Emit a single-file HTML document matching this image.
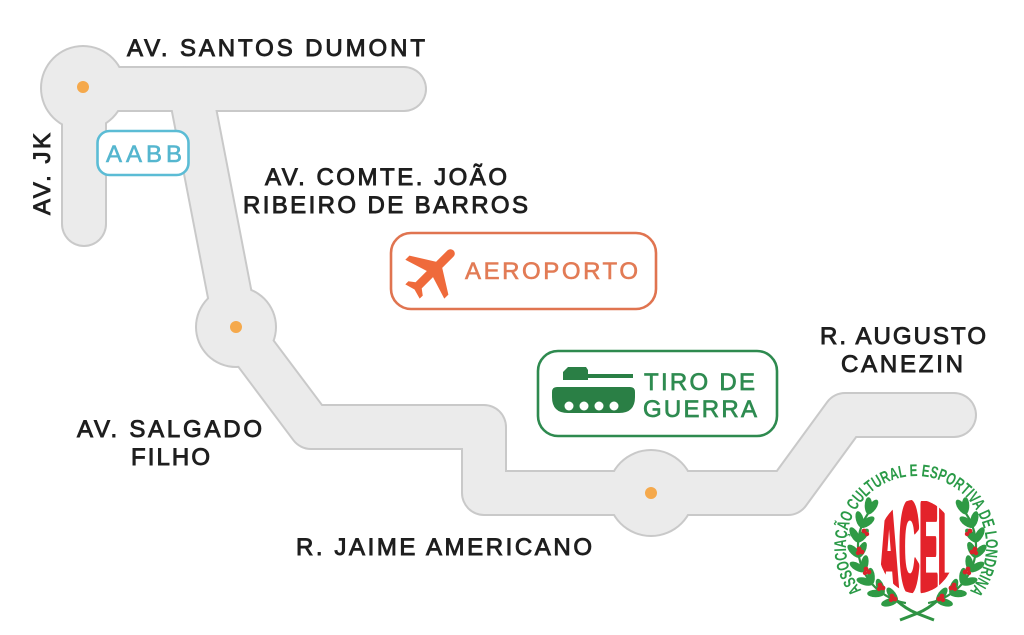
<!DOCTYPE html>
<html>
<head>
<meta charset="utf-8">
<style>
  html,body{margin:0;padding:0;background:#fff;}
  svg{display:block;}
  .lbl{font-family:"Liberation Sans",sans-serif;font-size:24px;fill:#1e1e1e;stroke:#1e1e1e;stroke-width:0.9px;}
</style>
</head>
<body>
<svg width="1024" height="635" viewBox="0 0 1024 635" xmlns="http://www.w3.org/2000/svg">
  <rect width="1024" height="635" fill="#ffffff"/>

  <!-- ROAD OUTLINES -->
  <g fill="none" stroke="#c9c9c9" stroke-width="46" stroke-linecap="round" stroke-linejoin="round">
    <path d="M83,89 L404,89"/>
    <path d="M84,89 L84,224"/>
    <path d="M190,89 L236,327 L311,427 L484,427 L484,493 L788,493 L845,415 L954,415"/>
  </g>
  <circle cx="83" cy="88" r="43" fill="#c9c9c9"/>
  <circle cx="236" cy="327" r="41" fill="#c9c9c9"/>
  <circle cx="651" cy="493" r="44" fill="#c9c9c9"/>

  <!-- ROAD FILLS -->
  <g fill="none" stroke="#ebebeb" stroke-width="42" stroke-linecap="round" stroke-linejoin="round">
    <path d="M83,89 L404,89"/>
    <path d="M84,89 L84,224"/>
    <path d="M190,89 L236,327 L311,427 L484,427 L484,493 L788,493 L845,415 L954,415"/>
  </g>
  <circle cx="83" cy="88" r="41" fill="#ebebeb"/>
  <circle cx="236" cy="327" r="39" fill="#ebebeb"/>
  <circle cx="651" cy="493" r="42" fill="#ebebeb"/>

  <!-- DOTS -->
  <circle cx="83" cy="87" r="6" fill="#f5a94c"/>
  <circle cx="236" cy="327" r="6" fill="#f5a94c"/>
  <circle cx="651" cy="493" r="6" fill="#f5a94c"/>

  <!-- LABELS -->
  <text class="lbl" x="127" y="56" textLength="298" lengthAdjust="spacing">AV. SANTOS DUMONT</text>
  <text class="lbl" transform="translate(50,215) rotate(-90)" x="0" y="0" textLength="82" lengthAdjust="spacing">AV. JK</text>
  <text class="lbl" x="265" y="185" textLength="242" lengthAdjust="spacing">AV. COMTE. JOÃO</text>
  <text class="lbl" x="243" y="213" textLength="285" lengthAdjust="spacing">RIBEIRO DE BARROS</text>
  <text class="lbl" x="820" y="344" textLength="166" lengthAdjust="spacing">R. AUGUSTO</text>
  <text class="lbl" x="841" y="372" textLength="122" lengthAdjust="spacing">CANEZIN</text>
  <text class="lbl" x="77" y="437" textLength="185" lengthAdjust="spacing">AV. SALGADO</text>
  <text class="lbl" x="131" y="465" textLength="79" lengthAdjust="spacing">FILHO</text>
  <text class="lbl" x="296" y="555" textLength="296" lengthAdjust="spacing">R. JAIME AMERICANO</text>

  <!-- AABB BOX -->
  <rect x="97.5" y="131" width="91" height="44" rx="12" ry="12" fill="#ffffff" stroke="#5bbcd5" stroke-width="2.6"/>
  <text x="106" y="162" font-family="Liberation Sans, sans-serif" font-size="24" fill="#55b6cf" stroke="#55b6cf" stroke-width="0.6" textLength="76" lengthAdjust="spacing">AABB</text>

  <!-- AEROPORTO BOX -->
  <rect x="391" y="233" width="265" height="76" rx="20" ry="20" fill="#ffffff" stroke="#e07450" stroke-width="2.6"/>
  <path transform="translate(433,271) rotate(45) scale(2.9) translate(-11.5,-12)" fill="#ef6a3b"
        d="M21 16v-2l-8-5V3.5c0-.83-.67-1.5-1.5-1.5S10 2.67 10 3.5V9l-8 5v2l8-2.5V19l-2 1.5V22l3.5-1 3.5 1v-1.5L13 19v-5.5l8 2.5z"/>
  <text x="465" y="279" font-family="Liberation Sans, sans-serif" font-size="24" fill="#e27b55" stroke="#e27b55" stroke-width="0.6" textLength="173" lengthAdjust="spacing">AEROPORTO</text>

  <!-- TIRO DE GUERRA BOX -->
  <rect x="538" y="351" width="239" height="85" rx="20" ry="20" fill="#ffffff" stroke="#2e8a4f" stroke-width="2.6"/>
  <g fill="#2a7f45">
    <path d="M563,380 L563,372 L568,367 L586,367 L588,370 L588,380 Z"/>
    <rect x="586" y="374" width="47" height="4"/>
    <path d="M557,387 H630 Q635,387 635,392 L635,397 Q635,413 619,413 H568 Q552,413 552,397 L552,392 Q552,387 557,387 Z"/>
  </g>
  <g fill="#ffffff">
    <circle cx="569" cy="406" r="4.5"/>
    <circle cx="584" cy="406" r="4.5"/>
    <circle cx="599" cy="406" r="4.5"/>
    <circle cx="614" cy="406" r="4.5"/>
  </g>
  <text x="644" y="390" font-family="Liberation Sans, sans-serif" font-size="24" fill="#2e8b50" stroke="#2e8b50" stroke-width="0.7" textLength="111" lengthAdjust="spacing">TIRO DE</text>
  <text x="643" y="417" font-family="Liberation Sans, sans-serif" font-size="24" fill="#2e8b50" stroke="#2e8b50" stroke-width="0.7" textLength="114" lengthAdjust="spacing">GUERRA</text>

  <!-- ACEL LOGO -->
  <defs>
    <clipPath id="acelClip">
      <ellipse cx="917" cy="546.5" rx="39" ry="47"/>
    </clipPath>
    <path id="ringPath" d="M861.6,590.1 A70,70 0 1,1 971.2,589.1"/>
    <g id="wreathL">
      <path d="M905.9,603.1 A58,58 0 0,1 868.5,512.7" fill="none" stroke="#2f9343" stroke-width="2.2"/>
      <path d="M896,600 Q906,609 916,613 T934,620" fill="none" stroke="#2f9343" stroke-width="3"/>
      <g fill="#2f9a45">
        <ellipse cx="889.4" cy="602.3" rx="8.5" ry="3.8" transform="rotate(165 889.4 602.3)"/>
        <ellipse cx="892.2" cy="594.8" rx="8.5" ry="3.8" transform="rotate(235 892.2 594.8)"/>
        <ellipse cx="875.7" cy="593.5" rx="8.5" ry="3.8" transform="rotate(180 875.7 593.5)"/>
        <ellipse cx="880.3" cy="586.9" rx="8.5" ry="3.8" transform="rotate(250 880.3 586.9)"/>
        <ellipse cx="864.8" cy="581.5" rx="8.5" ry="3.8" transform="rotate(195 864.8 581.5)"/>
        <ellipse cx="871.0" cy="576.3" rx="8.5" ry="3.8" transform="rotate(265 871.0 576.3)"/>
        <ellipse cx="857.3" cy="567.0" rx="8.5" ry="3.8" transform="rotate(210 857.3 567.0)"/>
        <ellipse cx="864.6" cy="563.6" rx="8.5" ry="3.8" transform="rotate(280 864.6 563.6)"/>
        <ellipse cx="854.0" cy="551.2" rx="8.5" ry="3.8" transform="rotate(225 854.0 551.2)"/>
        <ellipse cx="861.9" cy="549.8" rx="8.5" ry="3.8" transform="rotate(295 861.9 549.8)"/>
        <ellipse cx="854.7" cy="534.9" rx="8.5" ry="3.8" transform="rotate(240 854.7 534.9)"/>
        <ellipse cx="862.7" cy="535.6" rx="8.5" ry="3.8" transform="rotate(310 862.7 535.6)"/>
        <ellipse cx="859.7" cy="519.4" rx="8.5" ry="3.8" transform="rotate(255 859.7 519.4)"/>
        <ellipse cx="867.2" cy="522.2" rx="8.5" ry="3.8" transform="rotate(325 867.2 522.2)"/>
        <ellipse cx="868.5" cy="505.7" rx="8.5" ry="3.8" transform="rotate(270 868.5 505.7)"/>
        <ellipse cx="872.5" cy="507.0" rx="8.5" ry="3.8" transform="rotate(305 872.5 507.0)"/>
      </g>
      <g fill="#d8232a">
        <circle cx="864" cy="531" r="2.4"/><circle cx="867" cy="534" r="2.2"/>
        <circle cx="859" cy="549" r="2.4"/><circle cx="862" cy="552" r="2.4"/><circle cx="858" cy="553" r="2.2"/>
        <circle cx="866" cy="569" r="2.4"/><circle cx="869" cy="572" r="2.4"/><circle cx="865" cy="573" r="2.2"/>
        <circle cx="880" cy="585" r="2.4"/><circle cx="883" cy="588" r="2.4"/><circle cx="879" cy="589" r="2.2"/>
        <circle cx="892" cy="596" r="2.4"/><circle cx="895" cy="599" r="2.4"/><circle cx="891" cy="600" r="2.2"/>
      </g>
    </g>
  </defs>

  <use href="#wreathL"/>
  <use href="#wreathL" transform="translate(1834,0) scale(-1,1)"/>

  <g clip-path="url(#acelClip)">
    <text x="879" y="590" font-family="Liberation Sans, sans-serif" font-weight="bold" font-size="124" fill="#e3232a" stroke="#e3232a" stroke-width="7" stroke-linejoin="round" textLength="76" lengthAdjust="spacingAndGlyphs">ACEL</text>
  </g>

  <text font-family="Liberation Sans, sans-serif" font-weight="bold" font-size="17" fill="#2a9a47">
    <textPath href="#ringPath" textLength="316" lengthAdjust="spacingAndGlyphs">ASSOCIAÇÃO CULTURAL E ESPORTIVA DE LONDRINA</textPath>
  </text>
</svg>
</body>
</html>
